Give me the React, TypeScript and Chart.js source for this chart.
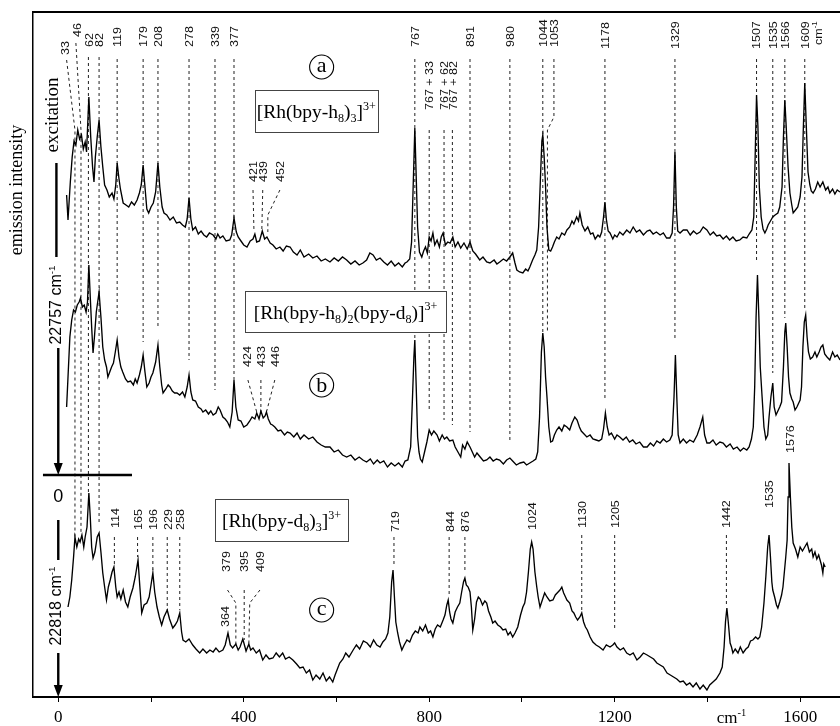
import { useEffect, useRef } from 'react';
import { Chart, registerables } from 'chart.js';

Chart.register(...registerables);

const SERIF = "'Liberation Serif', 'DejaVu Serif', serif";
const SANS = "'Liberation Sans', Arial, sans-serif";

// axis ranges (wavenumber in cm-1, intensity in arbitrary units)
const xRange = [-54.5, 1686];
const yRange = [0, 685];
const xTickValues = [0, 200, 400, 600, 800, 1000, 1200, 1400, 1600];
const xTickLabels = ['0', '', '400', '', '800', '', '1200', '', '1600'];

// (a) [Rh(bpy-h8)3]3+
const spectrumA: number[][] = [
  [18, 502], [21, 477], [26, 515], [30, 540], [34, 556], [38, 552], [42, 567], [46, 558], [50, 562], [54, 548], [58, 555], [61, 545],
  [66, 600], [70, 560], [74, 530], [77, 515], [80, 540], [84, 560], [88, 577], [92, 550], [96, 530], [100, 512], [105, 507], [110, 500],
  [116, 504], [120, 498], [124, 512], [127, 534], [131, 518], [134, 508], [140, 494], [146, 492], [152, 490], [158, 495], [164, 492],
  [170, 497], [175, 504], [179, 512], [183, 532], [187, 510], [191, 488], [195, 484], [200, 490], [205, 494], [210, 505], [215, 534],
  [219, 510], [224, 490], [228, 484], [234, 482], [241, 477], [248, 480], [255, 474], [262, 475], [268, 472], [274, 470], [278, 478],
  [282, 499], [286, 478], [290, 467], [296, 470], [302, 463], [308, 466], [314, 462], [320, 460], [326, 464], [334, 462], [340, 458],
  [344, 463], [349, 459], [355, 461], [362, 456], [370, 457], [374, 462], [379, 479], [384, 465], [388, 460], [394, 456], [400, 452],
  [407, 450], [414, 456], [420, 458], [424, 463], [428, 455], [434, 456], [440, 466], [445, 458], [450, 460], [457, 454], [463, 452],
  [470, 448], [478, 450], [485, 446], [492, 451], [500, 450], [507, 445], [515, 442], [522, 447], [530, 440], [540, 443], [549, 439],
  [558, 441], [567, 436], [576, 438], [586, 435], [595, 439], [604, 436], [613, 440], [622, 437], [631, 433], [640, 436], [649, 432],
  [657, 434], [665, 437], [672, 444], [679, 442], [686, 437], [694, 439], [702, 435], [710, 432], [718, 436], [726, 431], [734, 434],
  [742, 430], [748, 434], [752, 435], [758, 438], [762, 455], [766, 520], [769, 569], [772, 520], [775, 470], [779, 445], [784, 440],
  [788, 446], [792, 450], [796, 444], [800, 460], [804, 456], [808, 464], [812, 452], [817, 457], [822, 450], [826, 460], [830, 464],
  [835, 452], [840, 455], [845, 454], [851, 460], [856, 450], [862, 455], [868, 449], [875, 454], [882, 448], [888, 455], [894, 446],
  [900, 443], [909, 437], [916, 440], [924, 435], [931, 434], [940, 437], [946, 433], [952, 435], [960, 438], [967, 436], [974, 440],
  [980, 444], [985, 434], [989, 427], [995, 425], [1002, 424], [1008, 428], [1013, 426], [1017, 430], [1023, 437], [1028, 442],
  [1032, 447], [1036, 470], [1040, 520], [1043, 556], [1045, 562], [1048, 540], [1051, 510], [1054, 470], [1058, 447], [1062, 446],
  [1066, 450], [1070, 455], [1075, 460], [1080, 458], [1086, 464], [1092, 462], [1097, 467], [1103, 470], [1108, 476], [1112, 473],
  [1118, 480], [1122, 476], [1125, 484], [1130, 472], [1136, 466], [1142, 470], [1148, 463], [1153, 464], [1158, 458], [1164, 462],
  [1168, 460], [1172, 465], [1176, 480], [1179, 495], [1182, 478], [1186, 466], [1190, 464], [1196, 458], [1200, 462], [1205, 460],
  [1211, 465], [1218, 462], [1226, 467], [1233, 464], [1240, 470], [1247, 465], [1254, 467], [1262, 462], [1270, 466], [1276, 467],
  [1283, 463], [1290, 465], [1298, 462], [1305, 464], [1312, 459], [1319, 459], [1324, 464], [1327, 490], [1330, 545], [1333, 490],
  [1336, 466], [1341, 464], [1348, 467], [1356, 467], [1363, 462], [1370, 466], [1377, 463], [1384, 465], [1391, 470], [1399, 467],
  [1406, 462], [1413, 465], [1420, 461], [1427, 462], [1434, 458], [1441, 461], [1448, 457], [1455, 460], [1462, 456], [1470, 457],
  [1477, 460], [1485, 459], [1490, 463], [1496, 467], [1500, 480], [1503, 540], [1506, 602], [1509, 570], [1512, 510], [1516, 480],
  [1520, 468], [1524, 464], [1528, 468], [1531, 472], [1536, 476], [1541, 480], [1546, 482], [1552, 484], [1556, 490], [1561, 510],
  [1564, 560], [1567, 597], [1570, 570], [1574, 530], [1578, 504], [1582, 492], [1585, 484], [1590, 487], [1595, 490], [1600, 500],
  [1604, 520], [1607, 570], [1610, 614], [1613, 575], [1617, 525], [1621, 512], [1624, 506], [1628, 504], [1633, 508], [1638, 515],
  [1643, 510], [1649, 515], [1655, 507], [1660, 510], [1664, 504], [1670, 508], [1675, 503], [1680, 507], [1686, 505],
];

// (b) [Rh(bpy-h8)2(bpy-d8)]3+
const spectrumB: number[][] = [
  [18, 290], [21, 320], [25, 360], [29, 377], [33, 387], [37, 385], [41, 392], [45, 395], [48, 399], [52, 390], [56, 392], [60, 385],
  [63, 395], [66, 432], [69, 400], [72, 370], [75, 344], [78, 360], [82, 385], [85, 395], [88, 405], [92, 380], [96, 350], [100, 337],
  [104, 330], [107, 320], [111, 325], [115, 330], [119, 334], [123, 345], [127, 357], [131, 340], [135, 330], [139, 325], [145, 318],
  [150, 315], [156, 316], [162, 312], [166, 318], [170, 314], [175, 322], [179, 330], [183, 342], [187, 325], [191, 310], [196, 314],
  [200, 320], [204, 324], [210, 335], [215, 352], [219, 330], [223, 312], [226, 304], [232, 308], [237, 312], [241, 310], [246, 306],
  [251, 304], [256, 304], [262, 302], [268, 305], [273, 300], [278, 310], [282, 322], [286, 305], [290, 297], [296, 296], [302, 290],
  [308, 288], [312, 285], [318, 287], [324, 283], [329, 286], [334, 282], [340, 284], [345, 290], [349, 287], [355, 280], [360, 278],
  [365, 275], [370, 270], [375, 285], [379, 317], [383, 290], [388, 277], [394, 276], [400, 270], [407, 272], [413, 276], [418, 280],
  [424, 278], [428, 284], [433, 278], [437, 286], [442, 279], [446, 281], [449, 285], [453, 278], [458, 273], [462, 272], [467, 270],
  [474, 266], [480, 267], [488, 262], [494, 265], [500, 264], [508, 260], [515, 264], [522, 258], [530, 262], [540, 258], [549, 260],
  [558, 255], [567, 252], [576, 250], [586, 250], [595, 245], [604, 247], [613, 242], [622, 240], [631, 242], [640, 237], [649, 240],
  [657, 237], [665, 235], [673, 238], [680, 233], [688, 237], [694, 234], [702, 236], [710, 230], [718, 234], [726, 231], [734, 234],
  [742, 230], [748, 236], [754, 237], [760, 250], [764, 300], [767, 340], [769, 357], [772, 310], [775, 260], [778, 245], [781, 238],
  [785, 235], [790, 245], [795, 255], [800, 267], [805, 262], [810, 266], [817, 262], [822, 256], [828, 262], [833, 258], [838, 260],
  [844, 256], [851, 257], [856, 250], [862, 245], [868, 240], [872, 252], [877, 248], [882, 255], [888, 250], [893, 245], [898, 240],
  [903, 244], [910, 240], [917, 236], [924, 237], [931, 240], [938, 236], [945, 238], [952, 237], [960, 233], [967, 237], [974, 239],
  [980, 236], [988, 232], [996, 234], [1004, 235], [1010, 232], [1017, 234], [1024, 236], [1030, 238], [1034, 245], [1038, 280],
  [1042, 345], [1045, 364], [1048, 350], [1051, 320], [1054, 300], [1058, 270], [1062, 255], [1066, 256], [1070, 262], [1075, 267],
  [1080, 270], [1086, 266], [1091, 272], [1097, 270], [1103, 267], [1108, 274], [1114, 280], [1119, 277], [1124, 270], [1128, 266],
  [1132, 264], [1140, 260], [1147, 262], [1153, 258], [1160, 257], [1166, 256], [1172, 258], [1176, 268], [1180, 284], [1184, 270],
  [1188, 262], [1193, 264], [1200, 258], [1205, 262], [1211, 260], [1218, 257], [1225, 260], [1232, 255], [1239, 257], [1246, 253],
  [1254, 255], [1262, 250], [1270, 250], [1277, 254], [1284, 251], [1291, 256], [1298, 254], [1305, 258], [1312, 255], [1319, 257],
  [1324, 262], [1328, 300], [1331, 342], [1334, 300], [1337, 262], [1341, 254], [1348, 258], [1355, 254], [1362, 257], [1370, 255],
  [1378, 262], [1384, 270], [1390, 280], [1394, 262], [1399, 254], [1405, 254], [1412, 257], [1419, 252], [1427, 255], [1434, 254],
  [1441, 250], [1449, 253], [1456, 248], [1464, 250], [1471, 246], [1478, 249], [1485, 247], [1490, 250], [1495, 258], [1499, 270],
  [1502, 310], [1505, 380], [1508, 422], [1511, 380], [1514, 330], [1518, 300], [1522, 270], [1526, 258], [1530, 262], [1533, 280],
  [1537, 300], [1541, 314], [1544, 290], [1548, 282], [1552, 286], [1556, 290], [1560, 295], [1564, 330], [1567, 365], [1569, 374],
  [1572, 350], [1575, 320], [1578, 304], [1582, 298], [1585, 295], [1589, 287], [1593, 290], [1597, 294], [1600, 297], [1603, 310],
  [1606, 350], [1609, 375], [1612, 382], [1615, 360], [1618, 345], [1622, 338], [1627, 340], [1632, 345], [1636, 340], [1641, 345],
  [1645, 350], [1649, 352], [1653, 343], [1658, 340], [1664, 337], [1670, 345], [1675, 340], [1680, 342], [1686, 337],
];

// (c) [Rh(bpy-d8)3]3+
const spectrumC: number[][] = [
  [21, 90], [25, 100], [29, 117], [33, 140], [36, 160], [40, 150], [44, 158], [47, 155], [51, 162], [55, 150], [58, 160], [62, 170],
  [66, 204], [69, 180], [72, 150], [75, 139], [79, 145], [84, 160], [88, 164], [92, 145], [96, 124], [100, 110], [104, 97], [108, 110],
  [112, 117], [116, 125], [120, 130], [124, 110], [127, 100], [131, 105], [135, 98], [140, 107], [145, 95], [150, 90], [155, 100],
  [161, 109], [166, 120], [172, 137], [176, 110], [180, 84], [185, 92], [191, 94], [196, 100], [200, 112], [204, 124], [208, 105],
  [213, 90], [218, 80], [223, 72], [228, 80], [235, 87], [240, 78], [247, 69], [252, 72], [257, 76], [262, 84], [266, 65], [269, 57],
  [275, 55], [282, 58], [290, 52], [297, 48], [305, 44], [312, 48], [320, 44], [327, 47], [334, 45], [340, 49], [347, 45], [355, 47],
  [360, 52], [366, 64], [371, 52], [376, 49], [383, 53], [388, 47], [392, 50], [398, 58], [405, 46], [411, 53], [415, 47], [420, 49],
  [427, 44], [434, 47], [441, 37], [448, 42], [455, 38], [463, 39], [470, 44], [477, 40], [484, 44], [490, 38], [498, 40], [506, 37],
  [514, 33], [521, 29], [528, 30], [535, 24], [542, 27], [549, 17], [556, 22], [564, 18], [571, 24], [578, 16], [585, 20], [592, 15],
  [597, 22], [602, 28], [607, 34], [614, 38], [620, 44], [627, 40], [636, 47], [643, 52], [650, 48], [658, 56], [666, 54], [673, 50],
  [680, 57], [687, 52], [694, 50], [700, 55], [706, 58], [711, 64], [715, 80], [719, 115], [722, 127], [725, 100], [728, 75], [732, 64],
  [736, 55], [741, 47], [746, 52], [752, 57], [758, 55], [764, 62], [770, 66], [776, 64], [780, 70], [786, 66], [792, 72], [798, 64],
  [803, 66], [808, 60], [813, 68], [818, 72], [824, 70], [830, 77], [834, 82], [838, 92], [841, 97], [844, 85], [847, 78], [851, 74],
  [856, 85], [861, 90], [866, 94], [870, 105], [874, 115], [877, 119], [880, 112], [884, 110], [888, 105], [891, 90], [894, 67],
  [898, 78], [902, 95], [906, 100], [910, 98], [915, 92], [920, 96], [924, 94], [928, 86], [933, 80], [937, 74], [942, 76], [948, 72],
  [954, 70], [959, 67], [965, 68], [970, 62], [975, 65], [980, 60], [985, 64], [991, 70], [997, 82], [1002, 90], [1006, 94],
  [1010, 105], [1014, 125], [1018, 148], [1021, 155], [1024, 148], [1028, 125], [1032, 110], [1035, 100], [1039, 90], [1044, 97],
  [1049, 104], [1054, 100], [1060, 96], [1067, 97], [1072, 102], [1078, 105], [1082, 107], [1086, 110], [1090, 104], [1094, 100],
  [1097, 97], [1103, 94], [1108, 86], [1112, 84], [1116, 80], [1120, 77], [1125, 80], [1129, 84], [1133, 75], [1137, 70], [1141, 67],
  [1147, 60], [1153, 55], [1160, 52], [1167, 50], [1175, 47], [1182, 52], [1190, 50], [1196, 52], [1200, 54], [1205, 50], [1212, 47],
  [1219, 49], [1226, 44], [1233, 42], [1240, 44], [1248, 37], [1255, 40], [1262, 44], [1270, 42], [1277, 40], [1284, 38], [1291, 34],
  [1298, 32], [1305, 30], [1313, 24], [1320, 22], [1327, 20], [1334, 18], [1341, 15], [1348, 16], [1355, 12], [1362, 14], [1369, 10],
  [1376, 14], [1384, 8], [1391, 12], [1399, 7], [1405, 12], [1412, 15], [1419, 18], [1427, 24], [1432, 30], [1436, 50], [1439, 75],
  [1442, 89], [1445, 75], [1449, 54], [1452, 50], [1455, 44], [1460, 48], [1466, 44], [1471, 50], [1477, 44], [1483, 48], [1488, 50],
  [1493, 56], [1498, 57], [1504, 60], [1509, 58], [1513, 60], [1517, 70], [1522, 94], [1526, 120], [1530, 150], [1533, 162],
  [1536, 140], [1539, 115], [1541, 107], [1545, 100], [1549, 92], [1552, 89], [1556, 95], [1560, 102], [1563, 110], [1566, 125],
  [1569, 140], [1572, 157], [1574, 200], [1576, 234], [1579, 200], [1582, 170], [1585, 154], [1590, 148], [1595, 140], [1600, 150],
  [1605, 146], [1610, 150], [1615, 154], [1620, 145], [1625, 148], [1628, 140], [1632, 145], [1636, 138], [1640, 142], [1643, 137],
  [1646, 132], [1649, 124], [1651, 133], [1654, 130],
];

// peak labels: text, wavenumber of label, intensity where the (rotated) text starts
const peakLabels: [string, number, number][] = [
  ['33', 14, 642], ['46', 40, 660], ['62', 67, 650], ['82', 88, 650], ['119', 126, 650],
  ['179', 183, 650], ['208', 216, 650], ['278', 282, 650], ['339', 338, 650], ['377', 380, 650],
  ['767', 769, 650], ['891', 888, 650], ['980', 974, 650], ['1044', 1046, 650], ['1053', 1069, 650],
  ['1178', 1179, 648], ['1329', 1330, 648], ['1507', 1506, 648], ['1535', 1541, 648], ['1566', 1567, 648], ['1609', 1610, 648],
  ['767 + 33', 799, 587], ['767 + 62', 832, 587], ['767 + 82', 851, 587],
  ['421', 420, 515], ['439', 441, 515], ['452', 478, 515],
  ['424', 407, 330], ['433', 437, 330], ['446', 467, 330],
  ['1576', 1578, 244],
  ['114', 122, 169], ['165', 173, 167], ['196', 205, 167], ['229', 237, 167], ['258', 262, 167],
  ['364', 359, 70], ['379', 363, 125], ['395', 401, 125], ['409', 436, 125],
  ['719', 726, 165], ['844', 845, 165], ['876', 877, 165], ['1024', 1022, 167],
  ['1130', 1129, 169], ['1205', 1200, 169], ['1442', 1441, 169], ['1535', 1533, 189],
];

// dashed guide lines joining labels and peaks
const guideLines: number[][][] = [
  [[18, 637], [36, 567], [36, 160]],
  [[38, 654], [49, 567], [49, 165]],
  [[65, 640], [65, 204]],
  [[88, 640], [88, 175]],
  [[127, 638], [127, 377]],
  [[183, 638], [183, 355]],
  [[215, 638], [215, 370]],
  [[282, 638], [282, 337]],
  [[338, 638], [338, 307]],
  [[379, 638], [379, 315]],
  [[769, 638], [769, 357]],
  [[800, 567], [800, 285]],
  [[832, 567], [832, 277]],
  [[850, 567], [850, 272]],
  [[888, 638], [888, 265]],
  [[974, 638], [974, 257]],
  [[1045, 638], [1045, 365]],
  [[1069, 638], [1069, 580], [1055, 567], [1055, 365]],
  [[1179, 638], [1179, 297]],
  [[1330, 638], [1330, 357]],
  [[1506, 638], [1506, 434]],
  [[1541, 638], [1541, 324]],
  [[1567, 638], [1567, 379]],
  [[1610, 638], [1610, 389]],
  [[420, 507], [422, 467]],
  [[441, 507], [439, 467]],
  [[478, 507], [452, 482], [452, 465]],
  [[409, 317], [428, 285]],
  [[437, 317], [437, 285]],
  [[467, 317], [449, 285]],
  [[121, 160], [121, 130]],
  [[171, 160], [171, 140]],
  [[204, 160], [204, 124]],
  [[235, 160], [235, 87]],
  [[262, 160], [262, 87]],
  [[365, 107], [383, 94], [383, 52]],
  [[401, 107], [401, 57]],
  [[435, 107], [413, 94], [411, 52]],
  [[724, 160], [724, 130]],
  [[843, 160], [843, 100]],
  [[877, 160], [877, 124]],
  [[1129, 162], [1129, 84]],
  [[1200, 162], [1200, 69]],
  [[1441, 162], [1441, 90]],
];

// excitation-energy markers at the left
const markerBars: number[][][] = [
  [[-4, 534], [-4, 440]],
  [[0, 349], [0, 228]],
  [[-33, 222], [159, 222]],
  [[0, 177], [0, 137]],
  [[0, 44], [0, 6]],
];
const arrowTips: number[][] = [[0, 222], [0, 0]];

type Run = [string, number]; // 0 normal, 1 subscript, 2 superscript
const formulaBoxes: { x0: number; x1: number; y0: number; y1: number; runs: Run[] }[] = [
  { x0: 424, x1: 689, y0: 565, y1: 607, runs: [['[Rh(bpy-h', 0], ['8', 1], [')', 0], ['3', 1], [']', 0], ['3+', 2]] },
  { x0: 403, x1: 836, y0: 365, y1: 406, runs: [['[Rh(bpy-h', 0], ['8', 1], [')', 0], ['2', 1], ['(bpy-d', 0], ['8', 1], [')]', 0], ['3+', 2]] },
  { x0: 338, x1: 625, y0: 156, y1: 198, runs: [['[Rh(bpy-d', 0], ['8', 1], [')', 0], ['3', 1], [']', 0], ['3+', 2]] },
];
const panelLetters: [string, number, number][] = [['a', 568, 630], ['b', 568, 312], ['c', 568, 87]];
const energyTexts: { runs: Run[]; x: number; y: number }[] = [
  { runs: [['22757 cm', 0], ['-1', 2]], x: -5, y: 392 },
  { runs: [['22818 cm', 0], ['-1', 2]], x: -5, y: 91 },
];

function drawRuns(ctx: CanvasRenderingContext2D, runs: Run[], x: number, y: number, size: number, family: string, align: string) {
  const parts = runs.map(([t, k]) => {
    const s = k ? size * 0.62 : size;
    ctx.font = `${s}px ${family}`;
    return { t, k, s, w: ctx.measureText(t).width };
  });
  const total = parts.reduce((a, p) => a + p.w, 0);
  let cx = align === 'center' ? x - total / 2 : x;
  ctx.textAlign = 'left';
  ctx.textBaseline = 'alphabetic';
  for (const p of parts) {
    ctx.font = `${p.s}px ${family}`;
    const dy = p.k === 1 ? size * 0.22 : p.k === 2 ? -size * 0.42 : 0;
    ctx.fillText(p.t, cx, y + dy);
    cx += p.w;
  }
}

const annotationPlugin = {
  id: 'spectrumAnnotations',
  afterDatasetsDraw(chart: any) {
    const { ctx } = chart;
    const xs = chart.scales.x;
    const ys = chart.scales.y;
    const X = (v: number) => xs.getPixelForValue(v);
    const Y = (v: number) => ys.getPixelForValue(v);
    ctx.save();
    ctx.fillStyle = '#000';
    ctx.strokeStyle = '#000';

    // arrow heads
    for (const [ax, ay] of arrowTips) {
      const px = X(ax), py = Y(ay);
      ctx.beginPath();
      ctx.moveTo(px, py);
      ctx.lineTo(px - 4.5, py - 12);
      ctx.lineTo(px + 4.5, py - 12);
      ctx.closePath();
      ctx.fill();
    }

    // formula boxes
    for (const b of formulaBoxes) {
      const x0 = X(b.x0), x1 = X(b.x1), y0 = Y(b.y1), y1 = Y(b.y0);
      ctx.fillStyle = '#fff';
      ctx.fillRect(x0, y0, x1 - x0, y1 - y0);
      ctx.strokeStyle = '#444';
      ctx.lineWidth = 1;
      ctx.strokeRect(Math.round(x0) + 0.5, Math.round(y0) + 0.5, Math.round(x1 - x0), Math.round(y1 - y0));
      ctx.fillStyle = '#000';
      drawRuns(ctx, b.runs, (x0 + x1) / 2, (y0 + y1) / 2 + 7, 19.5, SERIF, 'center');
    }

    // circled panel letters
    for (const [t, cx0, cy0] of panelLetters) {
      const cx = X(cx0), cy = Y(cy0);
      ctx.beginPath();
      ctx.arc(cx, cy, 12, 0, Math.PI * 2);
      ctx.strokeStyle = '#000';
      ctx.lineWidth = 1.1;
      ctx.stroke();
      ctx.font = `22px ${SERIF}`;
      ctx.textAlign = 'center';
      ctx.textBaseline = 'alphabetic';
      ctx.fillStyle = '#000';
      ctx.fillText(t, cx, cy + (t === 'a' || t === 'c' ? 5 : 7));
    }

    // rotated peak labels (slightly condensed like the original)
    const lsize = 12.5;
    for (const [t, lx, ly] of peakLabels) {
      ctx.save();
      ctx.translate(X(lx), Y(ly));
      ctx.rotate(-Math.PI / 2);
      ctx.scale(1, 0.86);
      ctx.font = `${lsize}px ${SANS}`;
      ctx.textAlign = 'left';
      ctx.textBaseline = 'alphabetic';
      ctx.fillStyle = '#111';
      ctx.fillText(t, 0, lsize * 0.36);
      ctx.restore();
    }
    // rotated unit at top right
    ctx.save();
    ctx.translate(X(1638), Y(652));
    ctx.rotate(-Math.PI / 2);
    ctx.scale(1, 0.86);
    ctx.fillStyle = '#111';
    drawRuns(ctx, [['cm', 0], ['-1', 2]], 0, lsize * 0.36, lsize, SANS, 'left');
    ctx.restore();

    // energy labels on the left
    for (const e of energyTexts) {
      ctx.save();
      ctx.translate(X(e.x), Y(e.y));
      ctx.rotate(-Math.PI / 2);
      ctx.fillStyle = '#000';
      drawRuns(ctx, e.runs, 0, 5.5, 16, SANS, 'center');
      ctx.restore();
    }
    ctx.font = `18px ${SANS}`;
    ctx.textAlign = 'center';
    ctx.textBaseline = 'middle';
    ctx.fillText('0', X(0), Y(200));

    // excitation + y title
    ctx.save();
    ctx.translate(X(-11), Y(582));
    ctx.rotate(-Math.PI / 2);
    ctx.font = `19px ${SERIF}`;
    ctx.textAlign = 'center';
    ctx.textBaseline = 'middle';
    ctx.fillText('excitation', 0, 0);
    ctx.restore();
    ctx.save();
    ctx.translate(X(-89), Y(507));
    ctx.rotate(-Math.PI / 2);
    ctx.font = `18px ${SERIF}`;
    ctx.textAlign = 'center';
    ctx.textBaseline = 'middle';
    ctx.fillText('emission intensity', 0, 0);
    ctx.restore();

    // x-axis unit
    drawRuns(ctx, [['cm', 0], ['-1', 2]], X(1420), Y(-26), 17, SERIF, 'left');
    ctx.restore();
  },
};

const toXY = (pts: number[][]) => pts.map(([x, y]) => ({ x, y }));

export default function App() {
  const ref = useRef<HTMLCanvasElement | null>(null);
  useEffect(() => {
    if (!ref.current) return;
    const spectrumStyle = { borderColor: '#000', borderWidth: 1.35, pointRadius: 0, fill: false, tension: 0, order: 1 };
    const datasets: any[] = [
      { label: 'a', data: toXY(spectrumA), ...spectrumStyle },
      { label: 'b', data: toXY(spectrumB), ...spectrumStyle },
      { label: 'c', data: toXY(spectrumC), ...spectrumStyle },
      ...guideLines.map((g, i) => ({
        label: `guide${i}`, data: toXY(g), borderColor: '#222', borderWidth: 1, borderDash: [3, 3],
        pointRadius: 0, fill: false, tension: 0, order: 2,
      })),
      ...markerBars.map((g, i) => ({
        label: `bar${i}`, data: toXY(g), borderColor: '#000', borderWidth: 2.4,
        pointRadius: 0, fill: false, tension: 0, order: 1,
      })),
    ];
    const chart = new Chart(ref.current, {
      type: 'line',
      data: { datasets },
      plugins: [annotationPlugin],
      options: {
        animation: false,
        responsive: false,
        devicePixelRatio: 1,
        events: [],
        layout: { padding: { top: 12, left: 0, right: 0, bottom: 0 } },
        plugins: { legend: { display: false }, tooltip: { enabled: false } },
        scales: {
          x: {
            type: 'linear',
            position: 'bottom',
            min: xRange[0],
            max: xRange[1],
            afterBuildTicks: (s: any) => { s.ticks = xTickValues.map((v) => ({ value: v })); },
            afterFit: (s: any) => { s.height = 29; },
            ticks: {
              autoSkip: false,
              maxRotation: 0,
              padding: 5,
              color: '#000',
              font: { family: SERIF, size: 17 },
              callback: (v: any) => {
                const i = xTickValues.indexOf(Number(v));
                return i >= 0 ? xTickLabels[i] : '';
              },
            },
            grid: { drawOnChartArea: false, drawTicks: true, tickLength: 5, color: '#000', lineWidth: 1 },
            border: { display: true, color: '#000', width: 2 },
          },
          xTop: {
            type: 'linear',
            position: 'top',
            min: xRange[0],
            max: xRange[1],
            afterFit: (s: any) => { s.height = 0; },
            ticks: { display: false },
            grid: { display: false },
            border: { display: true, color: '#000', width: 2 },
          },
          y: {
            type: 'linear',
            min: yRange[0],
            max: yRange[1],
            afterFit: (s: any) => { s.width = 33; },
            ticks: { display: false },
            grid: { drawOnChartArea: false, drawTicks: false },
            border: { display: true, color: '#000', width: 1.5 },
          },
        },
      },
    });
    return () => chart.destroy();
  }, []);
  return (
    <div style={{ position: 'fixed', left: 0, top: 0, width: 840, height: 726, background: '#fff' }}>
      <canvas ref={ref} width={840} height={726} />
    </div>
  );
}
